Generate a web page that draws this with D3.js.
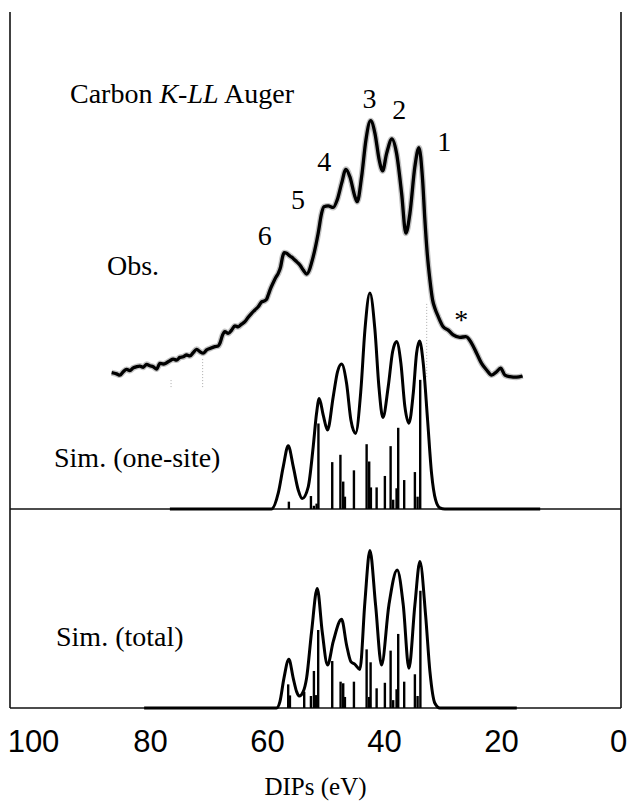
<!DOCTYPE html>
<html>
<head>
<meta charset="utf-8">
<script src="https://cdnjs.cloudflare.com/ajax/libs/d3/7.8.5/d3.min.js"></script>
<style>
  body { margin: 0; background: #fff; }
  svg { display: block; }
  .serif { font-family: 'Liberation Serif', 'Times New Roman', serif; fill: #000; }
  .tick text { font-family: 'Liberation Sans', Arial, sans-serif; font-size: 31px; fill: #000; }
</style>
</head>
<body>
<svg width="633" height="812"></svg>
<script>
// x axis ticks (DIP, eV)
const xTicks = [100, 80, 60, 40, 20, 0];

// observed Auger spectrum (eV, arbitrary intensity)
const obsEnergy = [
  86.56, 85.71, 85.14, 84.58, 84.00, 83.44, 82.87, 82.29, 81.73, 81.16,
  80.58, 80.02, 79.45, 78.87, 78.31, 77.74, 77.16, 76.60, 76.03, 75.45,
  74.89, 74.32, 73.74, 73.18, 72.61, 72.03, 71.47, 70.91, 70.32, 69.76,
  68.91, 68.34, 68.05, 67.59, 67.20, 66.63, 66.05, 65.49, 64.92, 64.34,
  63.78, 63.21, 62.63, 62.07, 61.50, 60.92, 60.36, 60.07, 59.79, 59.38,
  58.94, 58.48, 58.08, 57.67, 57.33, 57.06, 56.65, 56.08, 55.52, 54.94,
  54.38, 53.81, 53.23, 52.10, 51.25, 50.67, 50.27, 49.54, 48.68, 48.00,
  47.25, 46.51, 45.83, 44.97, 44.58, 43.83, 43.09, 42.29, 41.55, 40.82,
  40.24, 39.55, 38.65, 37.85, 36.99, 36.26, 35.57, 34.72, 34.03, 33.40,
  33.01, 32.61, 32.15, 31.69, 31.30, 30.73, 29.88, 29.02, 28.17, 27.02,
  26.00, 25.02, 24.17, 23.32, 22.46, 21.61, 20.75, 20.07, 19.33, 18.48,
  17.33, 16.31
];
const obsIntensity = [
  9.1, 8.7, 8.3, 9.4, 10.2, 9.8, 10.7, 11.1, 11.3, 10.9,
  11.9, 11.4, 11.1, 10.3, 12.2, 12.0, 12.4, 13.1, 13.6, 13.3,
  14.2, 14.4, 15.0, 14.7, 15.8, 16.9, 16.1, 15.6, 16.7, 17.2,
  17.8, 18.0, 18.9, 21.7, 22.8, 22.2, 23.3, 24.7, 24.4, 25.3,
  26.1, 27.6, 28.9, 30.0, 31.1, 32.7, 33.1, 33.6, 35.0, 37.2,
  39.1, 40.9, 42.2, 44.4, 47.8, 49.1, 48.9, 48.0, 47.2, 46.1,
  45.0, 43.3, 42.0, 47.8, 55.6, 62.2, 64.4, 64.7, 64.2, 66.7,
  72.2, 76.9, 74.4, 67.8, 66.1, 74.4, 86.7, 93.1, 88.9, 80.0,
  76.4, 82.2, 87.0, 82.2, 68.9, 55.6, 62.2, 77.8, 84.1, 73.3,
  60.0, 48.9, 40.0, 33.3, 30.6, 27.8, 24.4, 23.3, 21.7, 20.9,
  21.1, 18.9, 15.6, 12.2, 10.0, 8.3, 9.4, 10.6, 8.3, 7.8,
  7.6, 8.0
];

// simulated one-site envelope
const oneEnergy = [
  76.6, 59.22, 58.08, 57.22, 56.37, 55.51, 54.66, 53.98, 52.95, 52.10,
  51.53, 51.07, 50.39, 49.65, 48.68, 47.94, 47.25, 46.40, 45.66, 44.86,
  43.95, 43.26, 42.41, 41.55, 40.87, 40.19, 39.28, 38.53, 37.85, 37.11,
  36.43, 35.74, 35.00, 34.43, 33.92, 33.29, 32.55, 31.87, 31.18, 30.44,
  29.59, 13.3
];
const oneIntensity = [
  0, 0, 7.3, 19.6, 29.3, 19.6, 8.8, 4.9, 10.3, 28.9,
  44.3, 51.1, 43.5, 36.6, 52.0, 63.6, 67.1, 58.2, 41.2, 35.0,
  55.1, 82.9, 100, 82.9, 56.6, 42.4, 56.6, 72.8, 77.5, 67.4,
  47.4, 39.7, 53.5, 72.1, 77.8, 67.4, 41.2, 16.5, 4.2, 0.5,
  0, 0
];
// simulated one-site sticks
const oneStickEnergy = [
  56.26, 52.49, 51.98, 51.52, 51.21, 48.85, 47.45, 46.97, 46.68, 45.14,
  42.97, 42.53, 42.24, 41.26, 39.85, 38.87, 38.43, 37.85, 37.57, 36.55,
  34.72, 34.26, 33.81
];
const oneStickIntensity = [
  3.4, 6, 1.5, 2.5, 39.6, 21.7, 25.1, 12.7, 5.7, 17.9,
  30, 22, 10, 10, 15.3, 29.1, 4.3, 9.6, 37.6, 13.4,
  17.1, 5.7, 59.8
];

// simulated total envelope
const totEnergy = [
  81.0, 58.36, 57.79, 57.11, 56.26, 55.51, 54.94, 54.49, 53.81, 53.24,
  52.38, 51.41, 50.56, 49.65, 48.68, 47.25, 46.40, 45.66, 44.97, 44.12,
  43.26, 42.41, 41.44, 40.42, 39.16, 37.74, 36.71, 35.74, 34.72, 33.86,
  32.89, 32.15, 31.30, 30.44, 17.3
];
const totIntensity = [
  0, 0, 4.0, 18.8, 30.9, 18.8, 10.4, 7.6, 10.4, 18.8,
  48.4, 75.9, 48.4, 27.3, 42.1, 56.3, 40.0, 29.4, 27.7, 24.5,
  67.5, 100, 65.4, 27.3, 65.4, 87.6, 65.4, 25.2, 65.4, 92.9,
  59.0, 23.1, 3.0, 0, 0
];
// simulated total sticks
const totStickEnergy = [
  56.38, 56.08, 53.64, 52.49, 51.98, 51.59, 51.25, 48.85, 47.42, 46.97,
  46.68, 45.14, 42.97, 42.53, 42.29, 41.26, 39.85, 38.87, 38.43, 37.85,
  37.57, 36.55, 34.72, 34.26, 33.78
];
const totStickIntensity = [
  15, 8, 10.3, 7.6, 23.5, 8.2, 49.5, 29.8, 16.7, 15.7,
  7, 16.7, 37.2, 7, 29, 12.5, 16, 36.4, 5, 11.9,
  47, 16.7, 21.4, 7.6, 74.4
];

// peak labels on the observed spectrum
const peakLabels = ['1', '2', '3', '4', '5', '6', '*'];
const peakLabelEnergy = [29.7, 37.4, 42.5, 50.2, 54.7, 60.4, 26.8];
const peakLabelLevel = [83, 93.7, 97.5, 76.3, 63.7, 51.7, 23.7];

// faint dotted marks in the scan
const guideEnergy = [76.4, 71.0, 32.7];
const guideLow = [4.3, 4.3, 7.7];
const guideHigh = [7.3, 14.3, 32.3];

const svg = d3.select('svg');
const width = +svg.attr('width');
const height = +svg.attr('height');

const frame = { left: 10, right: 621, top: 12, mid: 509, bottom: 708 };

const xScale = d3.scaleLinear().domain([100, 0]).range([33, 618]);
const yObs = d3.scaleLinear().domain([0, 100]).range([400, 100]);
const yOne = d3.scaleLinear().domain([0, 100]).range([frame.mid, 293]);
const yTot = d3.scaleLinear().domain([0, 100]).range([frame.bottom, 550.4]);

const zip = (xs, ys) => xs.map((e, i) => ({ e, v: ys[i] }));

const lineFor = yScale => d3.line()
  .x(d => xScale(d.e))
  .y(d => yScale(d.v))
  .curve(d3.curveMonotoneX);

// frame
const frameG = svg.append('g')
  .attr('stroke', '#111')
  .attr('stroke-width', 1.6);
frameG.append('line')
  .attr('x1', frame.left).attr('x2', frame.left)
  .attr('y1', frame.top).attr('y2', frame.bottom);
frameG.append('line')
  .attr('x1', frame.right).attr('x2', frame.right)
  .attr('y1', frame.top).attr('y2', frame.bottom);
frameG.append('line')
  .attr('x1', frame.left).attr('x2', frame.right)
  .attr('y1', frame.mid).attr('y2', frame.mid);
frameG.append('line')
  .attr('x1', frame.left).attr('x2', frame.right)
  .attr('y1', frame.bottom).attr('y2', frame.bottom);

// dotted guides
svg.append('g')
  .selectAll('line')
  .data(guideEnergy.map((e, i) => ({ e, lo: guideLow[i], hi: guideHigh[i] })))
  .join('line')
    .attr('x1', d => xScale(d.e))
    .attr('x2', d => xScale(d.e))
    .attr('y1', d => yObs(d.lo))
    .attr('y2', d => yObs(d.hi))
    .attr('stroke', '#aaa')
    .attr('stroke-width', 1)
    .attr('stroke-dasharray', '1,2');

// observed curve, with a soft grey edge like the scanned trace
const obsData = zip(obsEnergy, obsIntensity);
svg.append('path')
  .attr('d', lineFor(yObs)(obsData))
  .attr('fill', 'none')
  .attr('stroke', '#888')
  .attr('stroke-opacity', 0.5)
  .attr('stroke-width', 6)
  .attr('stroke-linejoin', 'round');
svg.append('path')
  .attr('d', lineFor(yObs)(obsData))
  .attr('fill', 'none')
  .attr('stroke', '#000')
  .attr('stroke-width', 3.3)
  .attr('stroke-linejoin', 'round');

// simulated panels
const drawSim = (energy, inten, sE, sI, yScale) => {
  const g = svg.append('g');
  g.selectAll('line')
    .data(zip(sE, sI))
    .join('line')
      .attr('x1', d => xScale(d.e))
      .attr('x2', d => xScale(d.e))
      .attr('y1', yScale(0))
      .attr('y2', d => yScale(d.v))
      .attr('stroke', '#000')
      .attr('stroke-width', 2.4);
  g.append('path')
    .attr('d', lineFor(yScale)(zip(energy, inten)))
    .attr('fill', 'none')
    .attr('stroke', '#000')
    .attr('stroke-width', 3)
    .attr('stroke-linejoin', 'round');
};
drawSim(oneEnergy, oneIntensity, oneStickEnergy, oneStickIntensity, yOne);
drawSim(totEnergy, totIntensity, totStickEnergy, totStickIntensity, yTot);

// x axis labels
const xAxis = d3.axisBottom(xScale)
  .tickValues(xTicks)
  .tickSize(0)
  .tickPadding(22)
  .tickFormat(d3.format('d'));
const xAxisG = svg.append('g')
  .attr('transform', `translate(0,${frame.bottom})`)
  .call(xAxis);
xAxisG.select('.domain').remove();

// texts
const title = svg.append('text')
  .attr('class', 'serif')
  .attr('x', 70)
  .attr('y', 103)
  .attr('font-size', 28);
title.append('tspan').text('Carbon ');
title.append('tspan').attr('font-style', 'italic').text('K-LL');
title.append('tspan').text(' Auger');

svg.append('g')
  .selectAll('text')
  .data(peakLabels.map((t, i) => ({ t, e: peakLabelEnergy[i], v: peakLabelLevel[i] })))
  .join('text')
    .attr('class', 'serif')
    .attr('x', d => xScale(d.e))
    .attr('y', d => yObs(d.v))
    .attr('text-anchor', 'middle')
    .attr('font-size', 28)
    .text(d => d.t);

svg.append('text')
  .attr('class', 'serif')
  .attr('x', 107)
  .attr('y', 275)
  .attr('font-size', 28)
  .text('Obs.');

svg.append('text')
  .attr('class', 'serif')
  .attr('x', 54)
  .attr('y', 467)
  .attr('font-size', 28)
  .text('Sim. (one-site)');

svg.append('text')
  .attr('class', 'serif')
  .attr('x', 56)
  .attr('y', 646)
  .attr('font-size', 28)
  .text('Sim. (total)');

svg.append('text')
  .attr('class', 'serif')
  .attr('x', (frame.left + frame.right) / 2)
  .attr('y', 795)
  .attr('text-anchor', 'middle')
  .attr('font-size', 25)
  .text('DIPs (eV)');
</script>
</body>
</html>
